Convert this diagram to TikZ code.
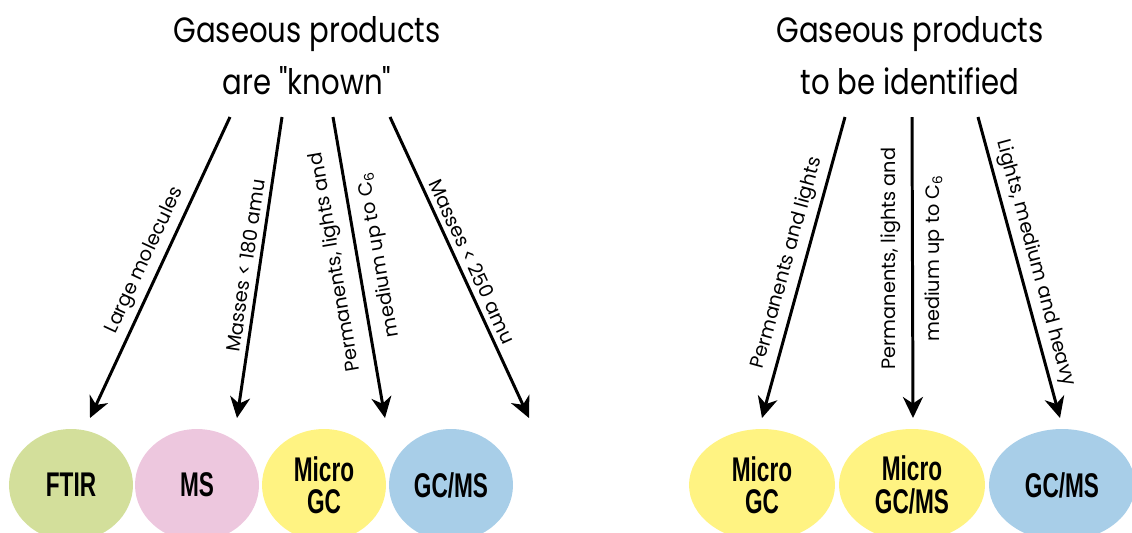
\documentclass[tikz,border=0pt]{standalone}
\usepackage{fontspec}
\setmainfont{Poppins}[Ligatures=TeXOff]
\newfontfamily\headfont[FakeStretch=0.83, Ligatures=TeXOff]{Poppins}
\newfontfamily\boxfont[FakeStretch=0.66]{Liberation Sans}
\usetikzlibrary{arrows.meta}
\usetikzlibrary{shapes.geometric}

\definecolor{ftirgreen}{RGB}{211,223,155}
\definecolor{mspink}{RGB}{237,199,222}
\definecolor{gcyellow}{RGB}{255,243,130}
\definecolor{gcmsblue}{RGB}{168,206,232}

\tikzset{
  heading/.style={align=center, font=\headfont\fontsize{20}{29.6}\selectfont},
  instr/.style={ellipse, minimum width=2.48cm, minimum height=2.24cm, inner sep=0pt,
    align=center, font=\boxfont\bfseries\fontsize{19.5}{18.5}\selectfont},
  wideinstr/.style={instr, minimum width=2.92cm},
  route/.style={line width=1.7pt, -{Stealth[length=4.2mm,width=4mm,inset=1.3mm]}},
  why/.style={sloped, above, inner sep=3pt, font=\fontsize{11}{13}\selectfont},
  whytwo/.style={inner sep=0pt, align=center, font=\fontsize{11}{25}\selectfont}
}

\begin{document}
\begin{tikzpicture}[x=0.02cm, y=-0.02cm]
 \useasboundingbox (0,0) rectangle (1132,532);
 \clip (0,0) rectangle (1132,532);

 % headings
 \node[heading] (known) at (307,56) {Gaseous products\\are "known"};
 \node[heading] (unknown) at (910,56) {Gaseous products\\to be identified};

 % instruments, left group
 \node[instr, fill=ftirgreen] (ftir) at (71,485) {FTIR};
 \node[instr, fill=mspink] (ms) at (197,485) {MS};
 \node[instr, fill=gcyellow] (mgc) at (324,485) {Micro\\GC};
 \node[instr, fill=gcmsblue] (gcms) at (451,485) {GC/MS};

 % instruments, right group
 \node[wideinstr, fill=gcyellow] (mgcb) at (762,485) {Micro\\GC};
 \node[wideinstr, fill=gcyellow] (mgcms) at (912,485) {Micro\\GC/MS};
 \node[wideinstr, fill=gcmsblue] (gcmsb) at (1062,485) {GC/MS};

 % arrow ends
 \coordinate (k1) at (230,117);  \coordinate (k1e) at (90,418);
 \coordinate (k2) at (282,117);  \coordinate (k2e) at (237,418);
 \coordinate (k3) at (333,117);  \coordinate (k3e) at (385,418);
 \coordinate (k4) at (390,117);  \coordinate (k4e) at (529,418);
 \coordinate (u1) at (845,117);  \coordinate (u1e) at (762,418);
 \coordinate (u2) at (912,117);  \coordinate (u2e) at (913,418);
 \coordinate (u3) at (978,117);  \coordinate (u3e) at (1060,418);

 \draw[route] (k1) -- node[why] {Large molecules} (k1e);
 \draw[route] (k2) -- node[why] {Masses < 180 amu} (k2e);
 \draw[route] (k3) -- node[whytwo, rotate=99.8, pos=0.47] {Permanents, lights and\\medium up to C\textsubscript{6}} (k3e);
 \draw[route] (k4) -- node[why] {Masses < 250 amu} (k4e);

 \draw[route] (u1) -- node[why] {Permanents and lights} (u1e);
 \draw[route] (u2) -- node[whytwo, rotate=90.2, pos=0.47] {Permanents, lights and\\medium up to C\textsubscript{6}} (u2e);
 \draw[route] (u3) -- node[why] {Lights, medium and heavy} (u3e);
\end{tikzpicture}
\end{document}
